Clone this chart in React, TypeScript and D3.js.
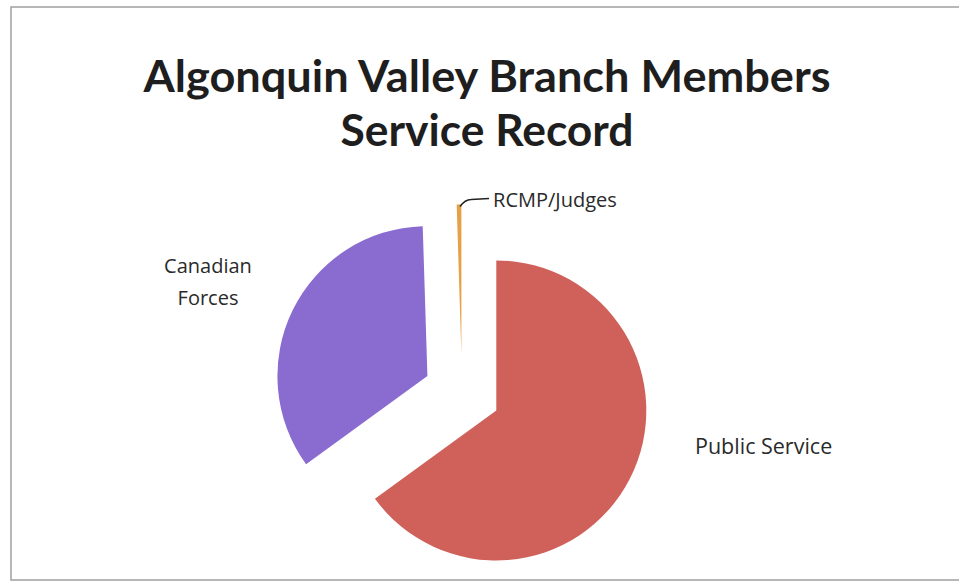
import React, { useEffect, useRef } from "react";
import * as d3 from "d3";

const categories = ["Public Service", "Canadian Forces", "RCMP/Judges"];
const members = [130, 69, 1];
const colors = ["#cf605a", "#8a6bd0", "#e6a045"];
const titleLines = ["Algonquin Valley Branch Members", "Service Record"];

const width = 959;
const height = 584;

const App: React.FC = () => {
  const svgRef = useRef<SVGSVGElement | null>(null);

  useEffect(() => {
    const svg = d3.select(svgRef.current);
    svg.selectAll("*").remove();

    svg.attr("width", width).attr("height", height).style("background", "#fff");

    // frame of the scanned chart
    svg
      .append("path")
      .attr("d", `M ${width} 7 H 11 V 580 H ${width}`)
      .attr("fill", "none")
      .attr("stroke", "#a0a0a0")
      .attr("stroke-width", 1.5);

    const title = svg
      .append("g")
      .attr("font-family", "Lato, 'Open Sans', sans-serif")
      .attr("font-weight", 700)
      .attr("fill", "#1e1e1e");
    const titleWidths = [687, 293];
    titleLines.forEach((t, i) => {
      title
        .append("text")
        .attr("x", 487)
        .attr("y", 92 + i * 54)
        .attr("text-anchor", "middle")
        .attr("font-size", 43)
        .attr("textLength", titleWidths[i])
        .attr("lengthAdjust", "spacingAndGlyphs")
        .text(t);
    });

    const cx = 462;
    const cy = 393;
    const radius = 150;
    const explode = 38.5;

    const pie = d3
      .pie<number>()
      .sort(null)
      .value((d) => d);
    const arcs = pie(members);
    const arc = d3.arc<d3.PieArcDatum<number>>().innerRadius(0).outerRadius(radius);

    const g = svg.append("g").attr("transform", `translate(${cx},${cy})`);

    g.selectAll("path.slice")
      .data(arcs)
      .enter()
      .append("path")
      .attr("class", "slice")
      .attr("d", arc)
      .attr("fill", (d, i) => colors[i])
      .attr("transform", (d) => {
        const mid = (d.startAngle + d.endAngle) / 2;
        return `translate(${Math.sin(mid) * explode},${-Math.cos(mid) * explode})`;
      });

    // leader line for the tiny slice
    const small = arcs[2];
    const sMid = (small.startAngle + small.endAngle) / 2;
    const tipX = cx + Math.sin(sMid) * (explode + radius) + 1;
    const tipY = cy - Math.cos(sMid) * (explode + radius) + 2;
    svg
      .append("path")
      .attr("d", `M ${tipX} ${tipY} Q ${tipX + 5} ${tipY - 7} ${tipX + 11} ${tipY - 7} L ${tipX + 29} ${tipY - 8}`)
      .attr("fill", "none")
      .attr("stroke", "#222")
      .attr("stroke-width", 1.5);

    const labels = svg
      .append("g")
      .attr("font-family", "'Open Sans', Lato, sans-serif")
      .attr("font-size", 20)
      .attr("fill", "#2a2a2a");

    labels
      .append("text")
      .attr("x", 695)
      .attr("y", 454)
      .attr("font-size", 21.5)
      .text(categories[0]);

    const cf = labels.append("text").attr("text-anchor", "middle");
    cf.append("tspan").attr("x", 208).attr("y", 273).text("Canadian");
    cf.append("tspan").attr("x", 208).attr("y", 305).text("Forces");

    labels
      .append("text")
      .attr("x", tipX + 33)
      .attr("y", tipY)
      .text(categories[2]);
  }, []);

  return (
    <svg
      ref={svgRef}
      style={{ position: "absolute", left: 0, top: 0, display: "block" }}
    ></svg>
  );
};

export default App;
